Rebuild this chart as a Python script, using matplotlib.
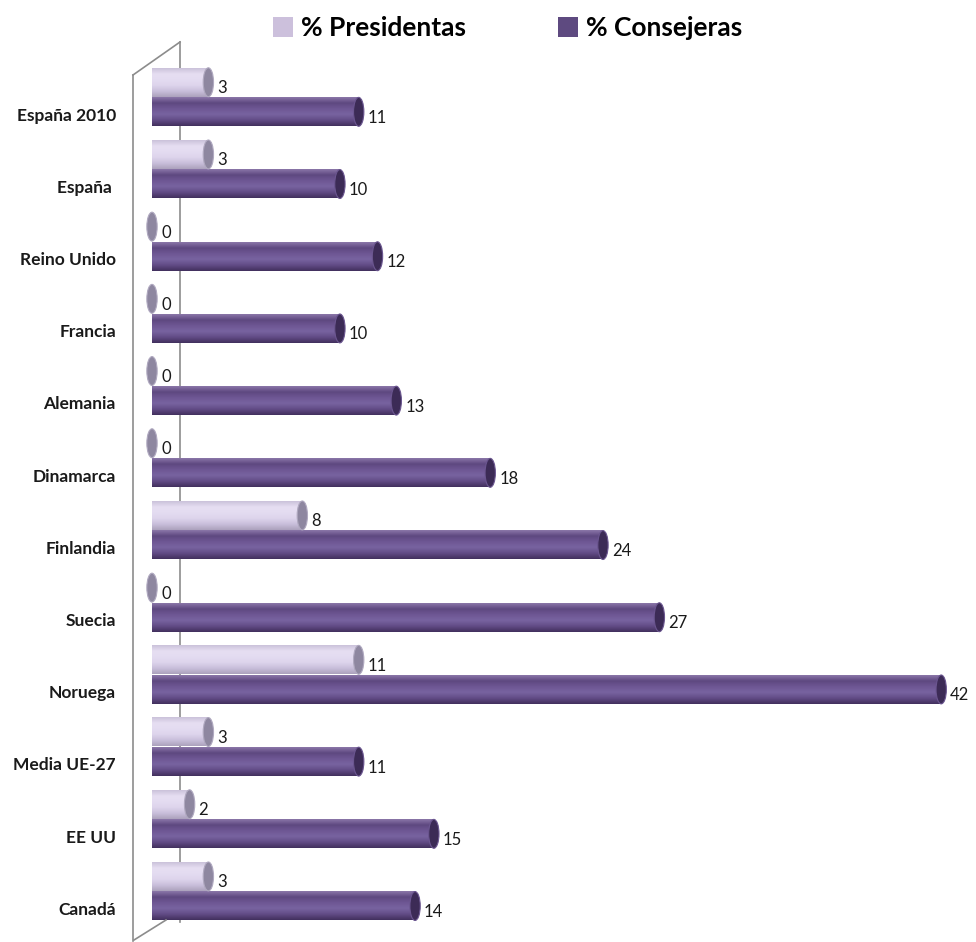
import numpy as np
import matplotlib
matplotlib.use('Agg')
import matplotlib.pyplot as plt
from matplotlib.patches import Ellipse, Patch
from matplotlib.lines import Line2D
from matplotlib.colors import LinearSegmentedColormap

# data
paises = ['España 2010', 'España ', 'Reino Unido', 'Francia', 'Alemania', 'Dinamarca',
          'Finlandia', 'Suecia', 'Noruega', 'Media UE-27', 'EE UU', 'Canadá']
presidentas = [3, 3, 0, 0, 0, 0, 8, 0, 11, 3, 2, 3]
consejeras = [11, 10, 12, 10, 13, 18, 24, 27, 42, 11, 15, 14]

plt.rcParams['font.family'] = ['Lato', 'DejaVu Sans']

fig = plt.figure(figsize=(9.76, 9.42), dpi=100)
ax = fig.add_axes([152 / 976, 0, 808 / 976, 1])
ax.patch.set_visible(False)

y = np.arange(len(paises))
h = 0.40

# cylinder shading (top -> bottom)
cm_cons = LinearSegmentedColormap.from_list('cons', ['#8a76a8', '#5e4880', '#6e5794', '#7863a0', '#624c86', '#42305e'])
cm_pres = LinearSegmentedColormap.from_list('pres', ['#cbc2da', '#e6def2', '#e4dcf1', '#ddd4ec', '#c9bfdb', '#aca2bd'])
grad = np.linspace(0, 1, 64).reshape(-1, 1)

def draw_series(vals, offset, cmap, capcol, rimcol):
    bars = ax.barh(y + offset, vals, height=h, color='none', edgecolor='none', zorder=3)
    for b, v in zip(bars, vals):
        yc = b.get_y() + b.get_height() / 2
        if v > 0:
            ax.imshow(grad, cmap=cmap, aspect='auto', zorder=3,
                      extent=(0, v, b.get_y() + b.get_height(), b.get_y()))
        ax.add_patch(Ellipse((v, yc), 0.55, h, facecolor=capcol, edgecolor=rimcol,
                             linewidth=0.8, zorder=4, clip_on=False))
        ax.annotate(str(v), (v, yc), xytext=(9, -6), textcoords='offset pixels',
                    va='center', ha='left', fontsize=12, color='#1a1a1a')

draw_series(presidentas, -0.44, cm_pres, '#8e87a0', '#b0a9c0')
draw_series(consejeras, -0.03, cm_cons, '#3c2b56', '#6b5690')

ax.set_xlim(0, 43)
ax.set_ylim((942 - 114) / 72.2, -114 / 72.2)
ax.set_yticks(y)
ax.set_yticklabels(paises, fontsize=12.5, fontweight='bold', color='#1a1a1a')
ax.tick_params(axis='y', length=0, pad=26)
ax.set_xticks([])
for s in ax.spines.values():
    s.set_visible(False)

# 3d wall outline
def fig_line(xs, ys, **kw):
    fig.add_artist(Line2D([a / 976 for a in xs], [1 - b / 942 for b in ys],
                          transform=fig.transFigure, **kw))

fig_line([180, 180], [42, 922], color='#8c8c8c', lw=1.2, zorder=-1)
fig_line([133, 180], [75, 42], color='#8c8c8c', lw=1.2, zorder=5)
fig_line([133, 133], [75, 941], color='#8c8c8c', lw=1.2, zorder=5)
fig_line([134, 166], [940, 920], color='#8c8c8c', lw=1.2, zorder=5)

# legend
handles = [Patch(facecolor='#ccc0dc', edgecolor='none'), Patch(facecolor='#5e4a80', edgecolor='none')]
fig.legend(handles, ['% Presidentas', '% Consejeras'], loc='upper center',
           bbox_to_anchor=(0.520, 1.008), ncol=2, frameon=False,
           prop={'size': 19, 'weight': 'bold'}, handlelength=0.75, handleheight=0.75,
           handletextpad=0.3, columnspacing=3.5)

fig.savefig('out.png', dpi=100)
